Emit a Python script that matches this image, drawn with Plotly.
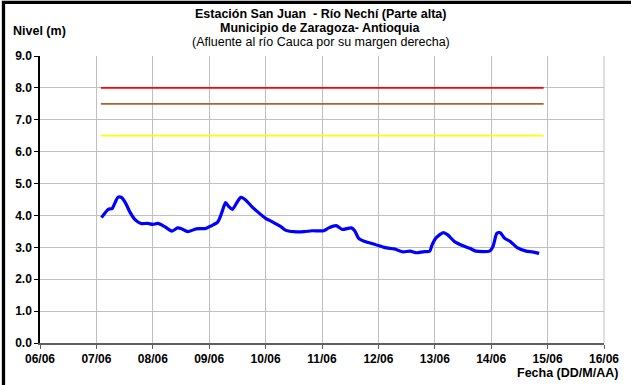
import plotly.graph_objects as go
import pandas as pd

# Fractional day of June (e.g. 7.09 = 07/06 ~02:10)
dias = [7.09, 7.21, 7.28, 7.38, 7.44, 7.52, 7.59, 7.68, 7.79, 7.91, 8.00, 8.09, 8.21, 8.34,
        8.44, 8.50, 8.62, 8.77, 8.94, 9.03, 9.15, 9.22, 9.29, 9.35, 9.41, 9.50, 9.56, 9.65,
        9.76, 9.88, 10.00, 10.12, 10.27, 10.35, 10.50, 10.68, 10.82, 11.03, 11.12, 11.25,
        11.36, 11.52, 11.58, 11.65, 11.76, 11.94, 12.12, 12.28, 12.44, 12.56, 12.68, 12.79,
        12.91, 12.95, 13.03, 13.15, 13.23, 13.35, 13.50, 13.62, 13.73, 13.97, 14.03, 14.10,
        14.16, 14.24, 14.34, 14.46, 14.62, 14.73, 14.85]
nivel = [3.93, 4.19, 4.22, 4.57, 4.57, 4.38, 4.12, 3.88, 3.75, 3.75, 3.72, 3.75, 3.65, 3.51,
         3.61, 3.59, 3.49, 3.58, 3.59, 3.67, 3.79, 4.07, 4.40, 4.27, 4.19, 4.43, 4.57, 4.48,
         4.27, 4.08, 3.91, 3.80, 3.65, 3.54, 3.49, 3.49, 3.52, 3.52, 3.61, 3.68,
         3.56, 3.61, 3.52, 3.28, 3.18, 3.09, 2.99, 2.95, 2.86, 2.88, 2.83, 2.86,
         2.88, 3.07, 3.31, 3.46, 3.39, 3.18, 3.05, 2.97, 2.88, 2.88, 3.02, 3.44,
         3.46, 3.28, 3.18, 2.99, 2.88, 2.86, 2.81]

umbral_dias = [7.08, 14.93]
umbral_rojo = 8.0
umbral_naranja = 7.5
umbral_amarillo = 6.5

base = pd.Timestamp("2010-06-01")
def to_dt(d):
    return [base + pd.Timedelta(days=v - 1) for v in d]

W, H = 631, 385
ML, MR, MT, MB = 40, 24, 56, 42
PW, PH = W - ML - MR, H - MT - MB
FONT = "Liberation Sans, Arial"

fig = go.Figure()
for val, col in [(umbral_rojo, "#ff0000"), (umbral_naranja, "#b0622a"), (umbral_amarillo, "#ffff00")]:
    fig.add_trace(go.Scatter(x=to_dt(umbral_dias), y=[val, val], mode="lines",
                             line=dict(color=col, width=1.8), showlegend=False, hoverinfo="skip"))
fig.add_trace(go.Scatter(x=to_dt(dias), y=nivel, mode="lines",
                         line=dict(color="#0000ff", width=3.2, shape="spline", smoothing=0.6),
                         showlegend=False))

tickvals = to_dt(list(range(6, 17)))
fig.update_layout(
    width=W, height=H,
    margin=dict(l=ML, r=MR, t=MT, b=MB),
    paper_bgcolor="white", plot_bgcolor="white",
    font=dict(family=FONT, size=12, color="black"),
    xaxis=dict(range=[tickvals[0], tickvals[-1]], tickvals=tickvals,
               ticktext=[t.strftime("%d/%m") for t in tickvals],
               showgrid=True, gridcolor="#c0c0c0", gridwidth=1,
               showline=True, linecolor="#606060", linewidth=2,
               ticks="outside", ticklen=4, tickcolor="#606060",
               tickfont=dict(size=12, family=FONT, weight="bold"),
               zeroline=False, mirror=False),
    yaxis=dict(range=[0, 9], dtick=1, tickformat=".1f",
               showgrid=True, gridcolor="#c0c0c0", gridwidth=1,
               showline=True, linecolor="black", linewidth=1.5,
               ticks="outside", ticklen=4, tickcolor="black",
               tickfont=dict(size=12, family=FONT, weight="bold"),
               zeroline=False),
)
# right border gridline
fig.add_shape(type="line", xref="paper", yref="paper", x0=1, x1=1, y0=0, y1=1,
              line=dict(color="#c0c0c0", width=1))

# Frame (only left and top edges visible in the picture)
fig.add_shape(type="rect", xref="paper", yref="paper",
              x0=(3.3 - ML) / PW, x1=1 + (MR + 20) / PW,
              y0=-(MB + 20) / PH, y1=1 + (MT - 2.3) / PH,
              line=dict(color="black", width=3.3))

ann = [
    ("<b>Estación San Juan  - Río Nechí (Parte alta)</b>", 322, 14),
    ("<b>Municipio de Zaragoza- Antioquia</b>", 322, 28),
    ("(Afluente al río Cauca por su margen derecha)", 322, 42),
]
for txt, px, py in ann:
    fig.add_annotation(text=txt, xref="paper", yref="paper",
                       x=(px - ML) / PW, y=1 + (MT - py) / PH,
                       xanchor="center", yanchor="middle", showarrow=False,
                       font=dict(size=12.5))
fig.add_annotation(text="<b>Nivel (m)</b>", xref="paper", yref="paper",
                   x=(11 - ML) / PW, y=1 + (MT - 31) / PH, xanchor="left", yanchor="middle",
                   showarrow=False, font=dict(size=12.5))
fig.add_annotation(text="<b>Fecha (DD/M/AA)</b>", xref="paper", yref="paper",
                   x=(623 - ML) / PW, y=-(373 - (H - MB)) / PH, xanchor="right", yanchor="middle",
                   showarrow=False, font=dict(size=12.5))

fig.write_html("out.html", config={"displayModeBar": False},
               post_script="document.body.style.margin='0';document.body.style.overflow='hidden';")
